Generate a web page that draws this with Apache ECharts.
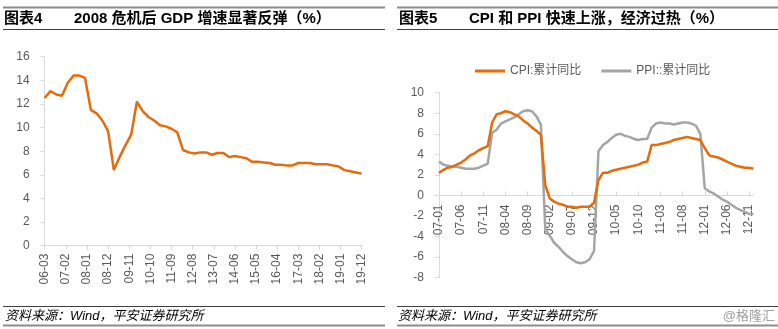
<!DOCTYPE html>
<html><head><meta charset="utf-8">
<script src="https://cdn.jsdelivr.net/npm/echarts@6/dist/echarts.min.js"></script>
<style>html,body{margin:0;padding:0;background:#fff}#c{width:778px;height:329px}</style>
</head><body><div id="c"></div>
<script>
// ---- data ----
// Left: quarterly GDP cumulative yoy (%), 2006Q1 .. 2019Q4
const gdpQuarterly = [12.5,13.1,12.8,12.7, 13.8,14.4,14.4,14.2, 11.5,11.2,10.6,9.7, 6.4,7.5,8.5,9.4,
  12.2,11.4,10.9,10.6, 10.2,10.1,9.9,9.6, 8.1,7.9,7.8,7.9, 7.9,7.7,7.85,7.85,
  7.5,7.6,7.5,7.4, 7.1,7.1,7.05,7.0, 6.85,6.85,6.8,6.8, 7.0,7.0,7.0,6.9,
  6.9,6.9,6.8,6.7, 6.4,6.3,6.2,6.1];
// Right: CPI / PPI cumulative yoy (%), 2007-01 .. 2012-12
const cpiCum = [2.2,2.5,2.7,2.8,3.0,3.2,3.5,3.9,4.1,4.4,4.6,4.8,
  7.1,7.9,8.0,8.2,8.1,7.9,7.7,7.3,7.0,6.6,6.3,5.9,
  1.0,-0.3,-0.6,-0.8,-0.9,-1.1,-1.1,-1.2,-1.1,-1.1,-1.1,-0.7,
  1.5,2.2,2.2,2.4,2.5,2.6,2.7,2.8,2.9,3.0,3.2,3.3,
  4.9,4.9,5.0,5.1,5.2,5.4,5.5,5.6,5.7,5.6,5.5,5.4,
  4.6,3.9,3.8,3.7,3.5,3.3,3.1,2.9,2.8,2.7,2.7,2.6];
const ppiCum = [3.3,3.0,2.9,2.8,2.8,2.7,2.6,2.6,2.6,2.7,2.9,3.1,
  6.1,6.4,7.0,7.2,7.4,7.6,7.9,8.2,8.3,8.2,7.7,6.9,
  -3.3,-3.9,-4.6,-5.0,-5.5,-5.9,-6.2,-6.5,-6.6,-6.5,-6.2,-5.4,
  4.3,4.9,5.2,5.6,5.9,6.0,5.8,5.7,5.5,5.4,5.5,5.5,
  6.6,7.0,7.1,7.0,7.0,6.9,7.0,7.1,7.1,7.0,6.8,6.0,
  0.7,0.4,0.2,-0.1,-0.4,-0.6,-0.9,-1.2,-1.4,-1.6,-1.8,-1.8];
const seriesNames = ['CPI:累计同比', 'PPI::累计同比'];
const leftTitle = ['图表4', '2008 危机后 GDP 增速显著反弹（%）'];
const rightTitle = ['图表5', 'CPI 和 PPI 快速上涨，经济过热（%）'];
const sourceText = '资料来源：Wind，平安证券研究所';
const watermark = '@格隆汇';
const rightYMin = -8, rightYMax = 10;

function monthCats(y0, m0, y1, m1) {
  const out = [];
  let y = y0, m = m0;
  while (y < y1 || (y === y1 && m <= m1)) {
    out.push(String(y % 100).padStart(2, '0') + '-' + String(m).padStart(2, '0'));
    m++; if (m > 12) { m = 1; y++; }
  }
  return out;
}
const gdpCats = monthCats(2006, 3, 2019, 12);
const priceCats = monthCats(2007, 1, 2012, 12);
const gdpData = gdpQuarterly.map((v, k) => [3 * k, v]);

const ORANGE = '#E46C0A', GRAY = '#A5A5A5', AX = '#D9D9D9', LBL = '#595959';
const FONT = '"Liberation Sans", "Noto Sans CJK SC", sans-serif';
const axisLabelStyle = { color: LBL, fontSize: 12, fontFamily: FONT };

// right grid geometry
const RG = { left: 439, right: 24.5, top: 92.7, bottom: 51.3 };
const rgHeight = 329 - RG.top - RG.bottom;
const zeroOffset = rgHeight * (0 - rightYMin) / (rightYMax - rightYMin);

const chart = echarts.init(document.getElementById('c'), null, { renderer: 'canvas' });

function hline(x1, x2, y, w, c) {
  return { type: 'line', shape: { x1, y1: y, x2, y2: y }, style: { stroke: c, lineWidth: w }, silent: true };
}
function txt(x, y, text, opts) {
  return { type: 'text', x, y, silent: true,
    style: Object.assign({ text, fill: '#000', font: 'bold 15px ' + FONT, textVerticalAlign: 'middle' }, opts || {}) };
}

chart.setOption({
  animation: false,
  legend: {
    data: seriesNames, left: 470, top: 60, icon: 'rect', itemWidth: 30, itemHeight: 3, itemGap: 20,
    textStyle: { color: LBL, fontSize: 12, fontFamily: FONT }
  },
  grid: [
    { left: 44.7, right: 416.3, top: 56.7, bottom: 83.3 },
    RG
  ],
  xAxis: [
    { type: 'category', gridIndex: 0, data: gdpCats, boundaryGap: false,
      axisLine: { lineStyle: { color: AX } },
      axisTick: { interval: 10, length: 4, lineStyle: { color: AX } },
      axisLabel: Object.assign({ interval: 10, rotate: 90, margin: 8 }, axisLabelStyle),
      splitLine: { show: false } },
    { type: 'category', gridIndex: 1, data: priceCats, boundaryGap: false, position: 'bottom',
      offset: -zeroOffset,
      axisLine: { onZero: false, lineStyle: { color: AX } },
      axisTick: { interval: 4, inside: true, length: 4, lineStyle: { color: AX } },
      axisLabel: Object.assign({ interval: 4, rotate: 90, margin: 9 }, axisLabelStyle),
      splitLine: { show: false } }
  ],
  yAxis: [
    { type: 'value', gridIndex: 0, min: 0, max: 16, interval: 2,
      axisLine: { show: true, lineStyle: { color: AX } },
      axisTick: { show: true, length: 4, lineStyle: { color: AX } },
      axisLabel: Object.assign({ margin: 15 }, axisLabelStyle),
      splitLine: { show: false } },
    { type: 'value', gridIndex: 1, min: rightYMin, max: rightYMax, interval: 2,
      axisLine: { show: true, lineStyle: { color: AX } },
      axisTick: { show: true, length: 4, lineStyle: { color: AX } },
      axisLabel: Object.assign({ margin: 15 }, axisLabelStyle),
      splitLine: { show: false } }
  ],
  series: [
    { type: 'line', name: 'GDP', xAxisIndex: 0, yAxisIndex: 0, data: gdpData,
      symbol: 'none', lineStyle: { color: ORANGE, width: 2.5 }, itemStyle: { color: ORANGE } },
    { type: 'line', name: seriesNames[0], xAxisIndex: 1, yAxisIndex: 1, data: cpiCum,
      symbol: 'none', lineStyle: { color: ORANGE, width: 2.5 }, itemStyle: { color: ORANGE }, z: 3 },
    { type: 'line', name: seriesNames[1], xAxisIndex: 1, yAxisIndex: 1, data: ppiCum,
      symbol: 'none', lineStyle: { color: GRAY, width: 2.5 }, itemStyle: { color: GRAY }, z: 2 }
  ],
  graphic: [
    hline(3, 385, 7.5, 2, '#8C8C8C'),
    hline(3, 385, 29.5, 1, '#404040'),
    hline(397, 778, 7.5, 2, '#8C8C8C'),
    hline(397, 778, 29.5, 1, '#404040'),
    txt(4, 18.5, leftTitle[0]),
    txt(74, 18.5, leftTitle[1]),
    txt(399, 18.5, rightTitle[0]),
    txt(469, 18.5, rightTitle[1]),
    hline(3, 385, 306.5, 1, '#404040'),
    hline(3, 385, 325.5, 2, '#8C8C8C'),
    hline(397, 778, 306.5, 1, '#404040'),
    hline(397, 778, 325.5, 2, '#8C8C8C'),
    txt(5, 316.5, sourceText, { font: 'italic 13px ' + FONT }),
    txt(398, 316.5, sourceText, { font: 'italic 13px ' + FONT }),
    txt(775, 316.5, watermark, { font: '13px ' + FONT, fill: '#A0A0A0', textAlign: 'right' })
  ]
});
</script></body></html>
